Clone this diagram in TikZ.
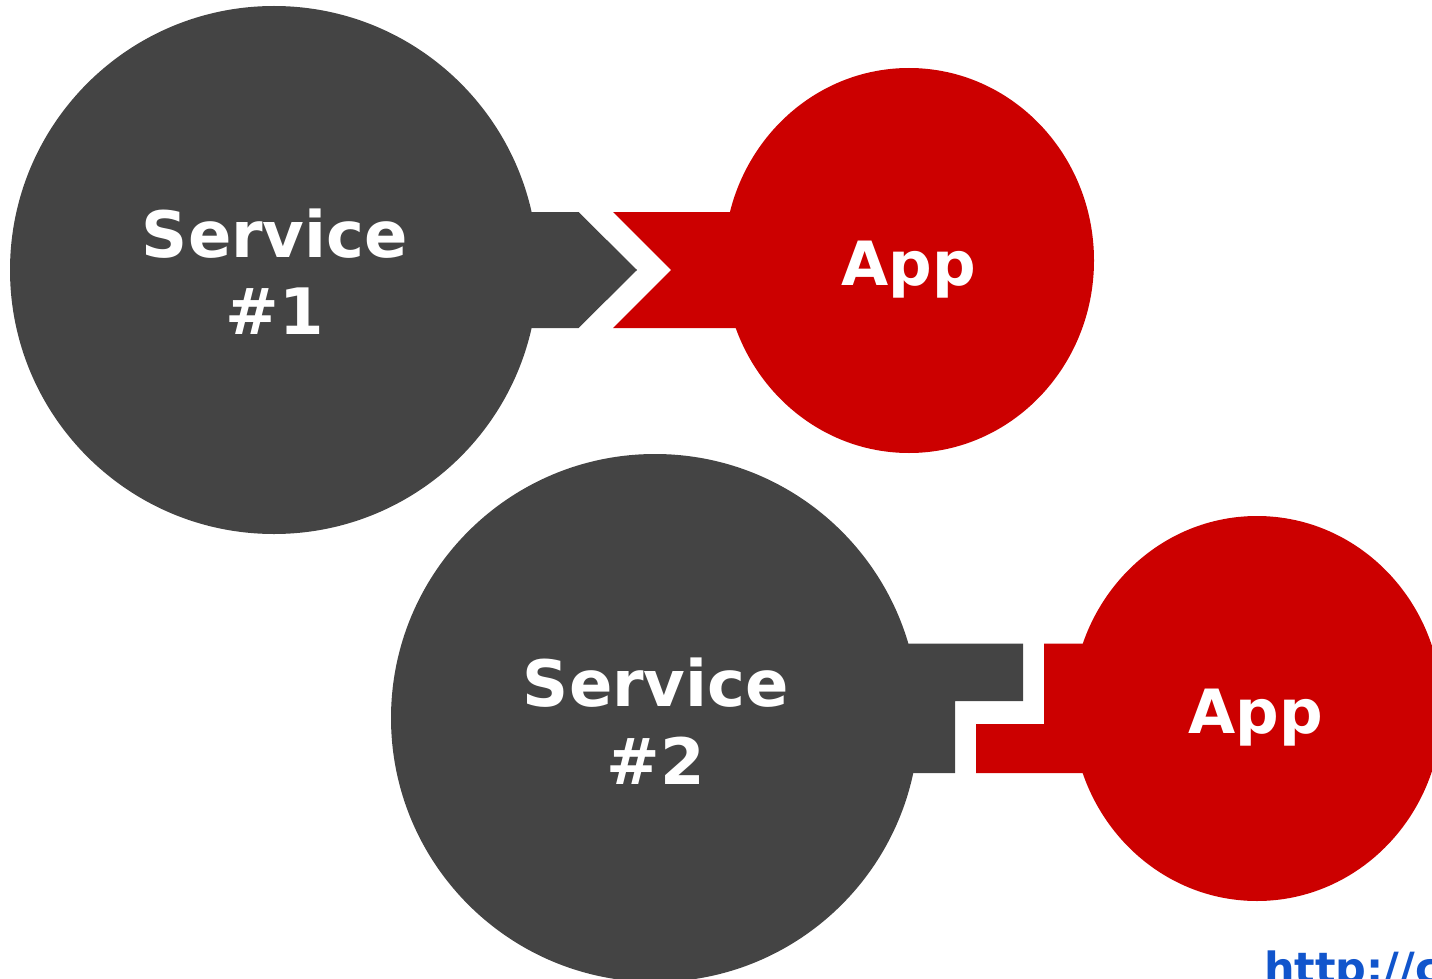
\documentclass[tikz,border=0pt]{standalone}
\usepackage{fontspec}
\setmainfont{DejaVu Sans}
\usetikzlibrary{shapes.geometric}
\definecolor{darkgrey}{HTML}{444444}
\definecolor{appred}{HTML}{CC0000}
\definecolor{urlblue}{HTML}{1155CC}
\begin{document}
\begin{tikzpicture}[x=1pt,y=-1pt,
  svc/.style={circle, fill=darkgrey, minimum size=528pt, inner sep=0pt},
  app/.style={ellipse, fill=appred, minimum width=370pt, minimum height=385pt, inner sep=0pt},
  svclbl/.style={text=white, font=\fontsize{64}{77}\selectfont\bfseries, anchor=base, inner sep=0pt},
  applbl/.style={text=white, font=\fontsize{61}{70}\selectfont\bfseries, anchor=base, inner sep=0pt},
  darkconn/.style={fill=darkgrey},
  redconn/.style={fill=appred}]
\useasboundingbox (0,0) rectangle (1432,979);
\clip (0,0) rectangle (1432,979);
% pair 1
\node[svc] (s1) at (274,270) {};
\node[app] (a1) at (909,260.5) {};
\fill[darkconn] (500,212) -- (578.5,212) -- (637,270) -- (578.5,328) -- (500,328) -- cycle;
\fill[redconn] (613,212) -- (780,212) -- (780,328) -- (613,328) -- (671,270) -- cycle;
\node[svclbl] (s1t) at (275,257) {Service};
\node[svclbl] (s1n) at (275,334) {\#1};
\node[applbl] (a1t) at (909,285) {App};
% pair 2
\node[svc] (s2) at (655,718) {};
\node[app] (a2) at (1257,708.5) {};
\fill[darkconn] (880,643.5) -- (1023,643.5) -- (1023,701) -- (955,701) -- (955,773) -- (880,773) -- cycle;
\fill[redconn] (1044,643.5) -- (1120,643.5) -- (1120,773) -- (976,773) -- (976,724) -- (1044,724) -- cycle;
\node[svclbl] (s2t) at (656,706) {Service};
\node[svclbl] (s2n) at (656,784) {\#2};
\node[applbl] (a2t) at (1256,733) {App};
% url
\node[text=urlblue, font=\fontsize{43}{50}\selectfont\bfseries, anchor=base west, inner sep=0pt] (url) at (1264,983) {http://c};
\end{tikzpicture}
\end{document}
